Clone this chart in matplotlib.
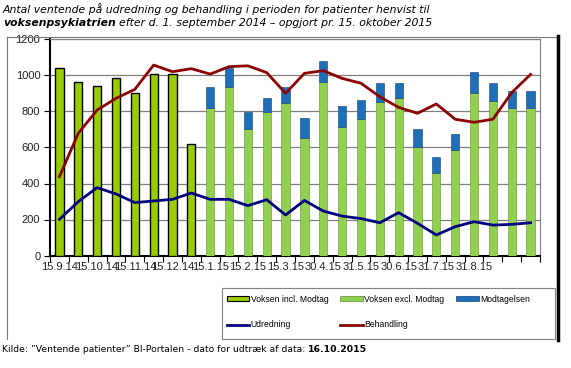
import numpy as np
import matplotlib
matplotlib.use("Agg")
import matplotlib.pyplot as plt
from matplotlib.patches import Patch, Rectangle
from matplotlib.lines import Line2D

# x tick labels, one for every second category
tick_labels = ["15.9.14", "15.10.14", "15.11.14", "15.12.14", "15.1.15", "15.2.15",
               "15.3.15", "30.4.15", "31.5.15", "30.6.15", "31.7.15", "31.8.15"]

# first 8 categories: Voksen incl. Modtag
voksen_incl = [1040, 966, 943, 984, 901, 1006, 1006, 618]

# remaining 18 categories: stacked
voksen_excl = [821, 938, 705, 799, 849, 655, 962, 716, 757, 851, 877, 601,
               460, 584, 901, 860, 821, 821]
modtagelsen = [117, 105, 92, 74, 89, 107, 119, 115, 107, 106, 80, 100,
               87, 91, 120, 97, 91, 91]

udredning = [201, 299, 377, 342, 294, 303, 312, 347, 312, 312, 277, 310, 225,
             306, 247, 219, 205, 182, 238, 179, 114, 160, 188, 169, 173, 182]
behandling = [438, 679, 808, 873, 923, 1058, 1021, 1038, 1008, 1049, 1054, 1016,
              901, 1012, 1027, 984, 957, 882, 823, 790, 842, 757, 740, 757, 905, 1006]

C_INCL = "#99cc00"
C_EXCL = "#92d050"
C_MOD = "#1f6fb8"
C_UDR = "#000080"
C_BEH = "#8b0000"

font = ["Liberation Sans", "DejaVu Sans"]
W, H = 571, 368


def main():
    fig = plt.figure(figsize=(5.71, 3.68), dpi=100)
    ax = fig.add_axes([50 / W, 1 - 255.5 / H, 490 / W, 216 / H])

    n = len(udredning)
    x = np.arange(n)
    n1 = len(voksen_incl)
    x1 = x[:n1]
    x2 = x[n1:]
    w = 0.44

    ax.bar(x1, voksen_incl, width=w, color=C_INCL, edgecolor="black", linewidth=1.0, zorder=3)
    ax.bar(x2, voksen_excl, width=w, color=C_EXCL, edgecolor="#5f8a30", linewidth=0.4, zorder=3)
    ax.bar(x2, modtagelsen, bottom=voksen_excl, width=w, color=C_MOD,
           edgecolor="#0d3f70", linewidth=0.4, zorder=3)

    ax.plot(x, udredning, color=C_UDR, lw=2, zorder=4)
    ax.plot(x, behandling, color=C_BEH, lw=2, zorder=4)

    ax.set_xlim(-0.5, n - 0.5)
    ax.set_ylim(0, 1200)
    ax.set_yticks(range(0, 1201, 200))
    ax.yaxis.grid(True, color="#808080", lw=0.9, zorder=0)

    ax.set_xticks(np.arange(-0.5, n, 1.0))
    ax.set_xticklabels([])
    ax.set_xticks(np.arange(0, 2 * len(tick_labels), 2), minor=True)
    ax.set_xticklabels(tick_labels, minor=True)
    ax.tick_params(axis="x", which="minor", length=0, pad=5)
    ax.tick_params(axis="x", which="major", length=4, direction="out", width=0.8)
    ax.tick_params(axis="y", length=4, width=0.8, pad=3)
    for lab in ax.get_xticklabels(minor=True) + ax.get_yticklabels():
        lab.set_fontfamily(font)
        lab.set_fontsize(8.0)
        lab.set_color("#222222")

    ax.spines["left"].set_linewidth(1.5)
    ax.spines["bottom"].set_linewidth(1.5)
    ax.spines["right"].set_color("#808080")
    ax.spines["top"].set_color("#808080")

    # outer chart frame
    fig.add_artist(Line2D([7 / W, 7 / W], [1 - 339 / H, 1 - 37 / H], color="#777777", lw=0.8))
    fig.add_artist(Line2D([7 / W, 558 / W], [1 - 37 / H, 1 - 37 / H], color="#777777", lw=0.8))
    fig.add_artist(Line2D([558 / W, 558 / W], [1 - 340 / H, 1 - 36 / H], color="black", lw=2.5))

    # legend box
    fig.add_artist(Rectangle((222 / W, 1 - 339 / H), 333 / W, 51 / H, transform=fig.transFigure,
                             facecolor="none", edgecolor="#808080", lw=0.8))

    h_incl = Patch(facecolor=C_INCL, edgecolor="black", lw=0.8)
    h_excl = Patch(facecolor=C_EXCL, edgecolor="#5f8a30", lw=0.5)
    h_mod = Patch(facecolor=C_MOD, edgecolor="#0d3f70", lw=0.5)
    h_udr = Line2D([], [], color=C_UDR, lw=2)
    h_beh = Line2D([], [], color=C_BEH, lw=2)
    # column-major fill: order so rows read incl/excl/mod then udr/beh
    handles = [h_incl, h_udr, h_excl, h_beh, h_mod]
    labels = ["Voksen incl. Modtag", "Udredning", "Voksen excl. Modtag",
              "Behandling", "Modtagelsen"]
    fig.legend(handles, labels, ncol=3, loc="upper left",
               bbox_to_anchor=(227 / W, 1 - 295 / H),
               prop={"family": font, "size": 6.2}, frameon=False,
               handlelength=2.6, handleheight=0.5, handletextpad=0.15,
               columnspacing=1.4, labelspacing=1.9, borderpad=0, borderaxespad=0)

    # title
    fig.text(3 / W, 1 - 9 / H, "Antal ventende på udredning og behandling i perioden for patienter henvist til",
             fontsize=7.8, style="italic", va="center", ha="left")
    t = fig.text(3 / W, 1 - 23.5 / H, "voksenpsykiatrien", fontsize=7.8, style="italic",
                 weight="bold", va="center", ha="left")
    fig.canvas.draw()
    bb = t.get_window_extent()
    fig.text(bb.x1 / W + 3 / W, 1 - 23.5 / H, "efter d. 1. september 2014 – opgjort pr. 15. oktober 2015",
             fontsize=7.8, style="italic", va="center", ha="left")

    # source line
    s = fig.text(2 / W, 1 - 350 / H, "Kilde: \u201dVentende patienter\u201d BI-Portalen - dato for udtræk af data: ",
                 fontsize=6.7, va="center", ha="left")
    fig.canvas.draw()
    bb = s.get_window_extent()
    fig.text(bb.x1 / W, 1 - 350 / H, "16.10.2015", fontsize=6.7, weight="bold", va="center", ha="left")

    fig.savefig("out.png", dpi=100)


if __name__ == '__main__':
    main()
